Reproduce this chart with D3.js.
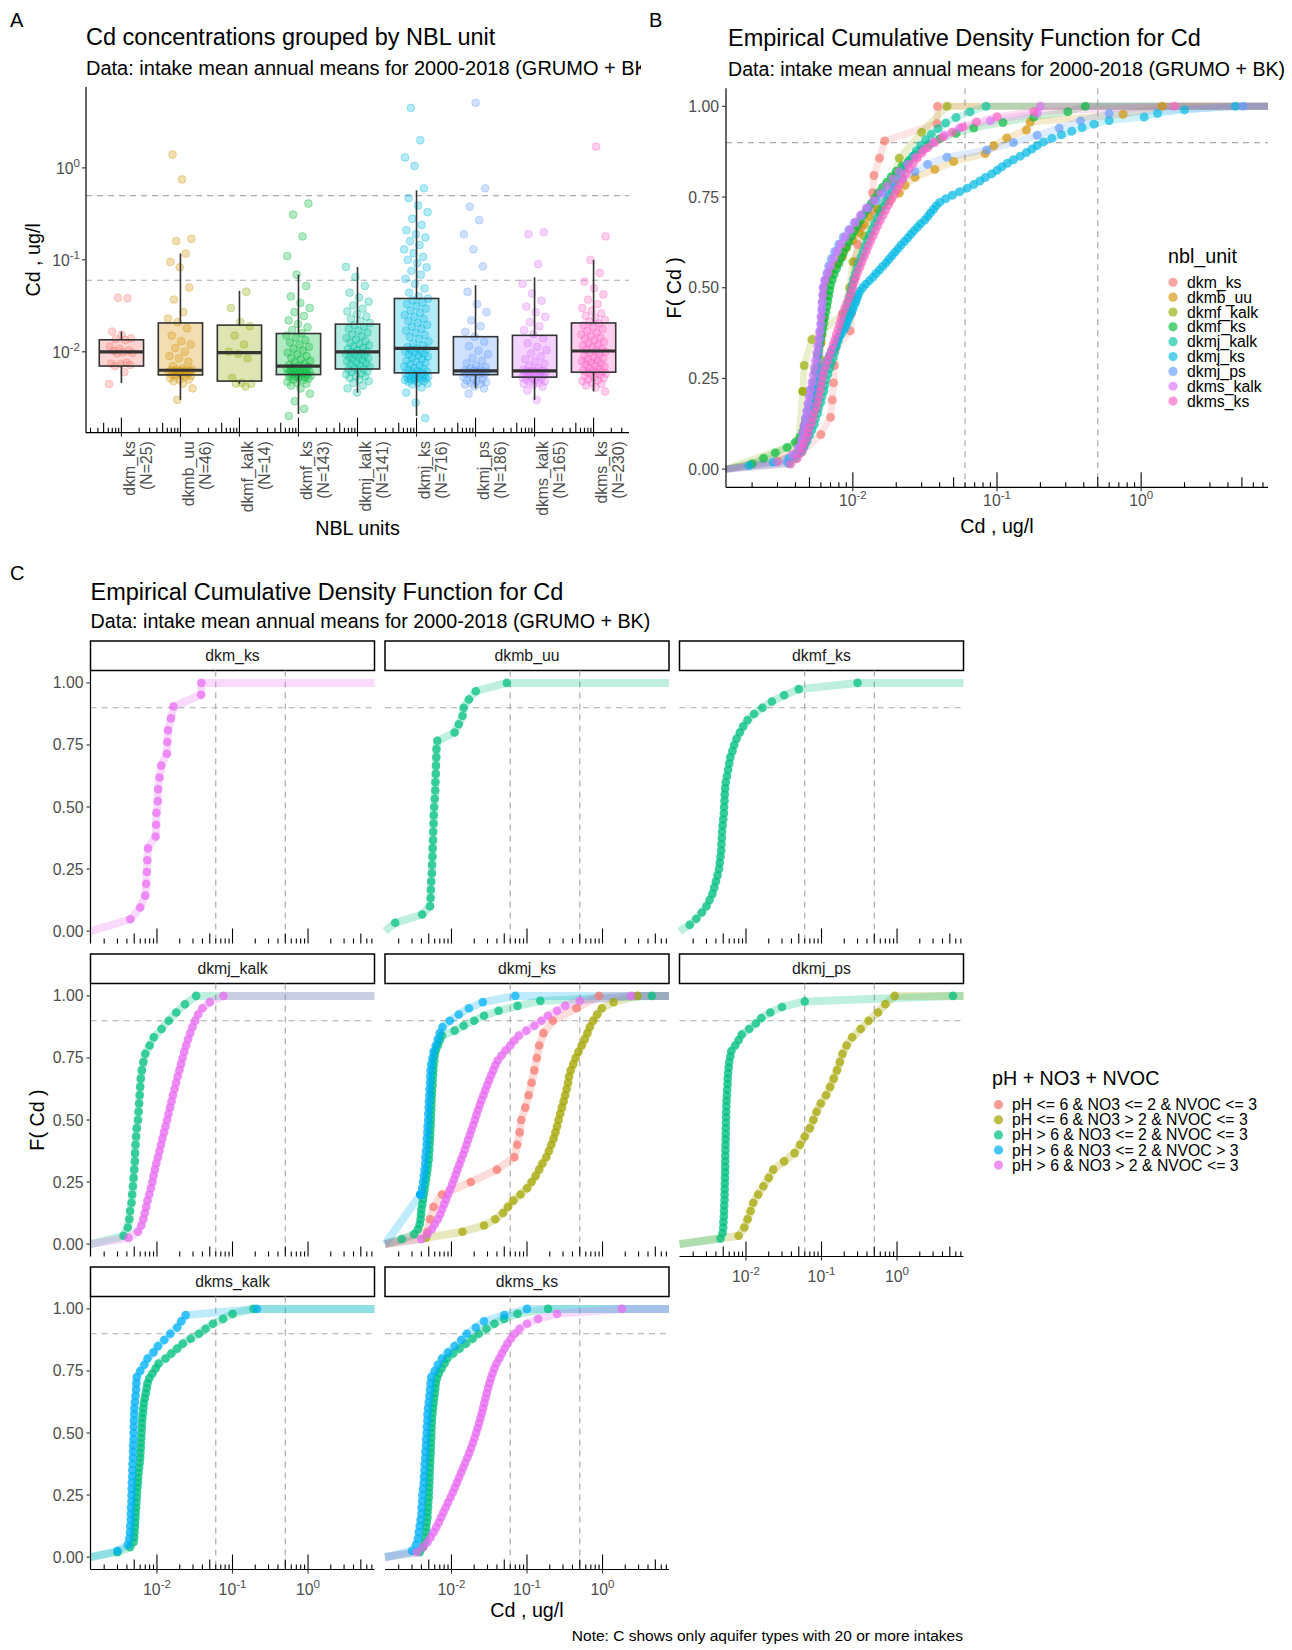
<!DOCTYPE html>
<html><head><meta charset="utf-8">
<script src="https://cdn.jsdelivr.net/npm/d3@7"></script>
<style>
body{margin:0;background:#fff}
svg{display:block}
text{font-family:"Liberation Sans",Arial,sans-serif}
</style></head>
<body><svg id="chart" width="1292" height="1650"></svg>
<script>
// ---------------- DATA ----------------
const units = ["dkm_ks","dkmb_uu","dkmf_kalk","dkmf_ks","dkmj_kalk","dkmj_ks","dkmj_ps","dkms_kalk","dkms_ks"];
const unitN = [25,46,14,143,141,716,186,165,230];
const unitColors = ["#F8766D","#D39200","#93AA00","#00BA38","#00C19F","#00B9E3","#619CFF","#DB72FB","#FF61C3"];
// boxplot statistics (ug/l)
const boxLow  = [0.00457,0.0030,0.0045,0.0021,0.0036,0.0020,0.0040,0.0030,0.0037];
const boxQ1   = [0.0070,0.0056,0.0048,0.00565,0.0065,0.0059,0.00564,0.0053,0.0060];
const boxMed  = [0.0100,0.0063,0.0098,0.0070,0.0100,0.0109,0.0062,0.0062,0.0102];
const boxQ3   = [0.0135,0.0206,0.0195,0.0158,0.0200,0.0380,0.0146,0.0151,0.0206];
const boxHigh = [0.0166,0.117,0.046,0.069,0.0836,0.57,0.053,0.0646,0.100];
// Cd values per unit (ug/l)
const cd_dkm_ks = [0.00445,0.0060,0.0070,0.0072,0.00735,0.00745,0.0076,0.0096,0.00975,0.00985,0.01025,0.01035,0.0108,0.0114,0.0135,0.0137,0.0140,0.0153,0.0166,0.0384,0.0387];
const cd_dkmb_uu = [0.0030,0.0040,0.0045,0.0048,0.0050,0.0050,0.0052,0.0054,0.0055,0.0055,0.0056,0.0057,0.0058,0.0059,0.0060,0.0060,0.0061,0.0062,0.0062,0.0063,0.0063,0.0063,0.0064,0.0066,0.0070,0.0078,0.0085,0.0090,0.0100,0.0110,0.0120,0.0130,0.0150,0.0180,0.0210,0.0230,0.0270,0.0370,0.0500,0.0830,0.0950,0.1170,0.1600,0.1700,0.7500,1.4000];
const cd_dkmf_kalk = [0.0042,0.0045,0.0045,0.0046,0.0052,0.0085,0.0095,0.0100,0.0120,0.0150,0.0190,0.0210,0.0300,0.0450];
const cd_dkmf_ks = [0.0020,0.0024,0.0029,0.0035,0.0040,0.0043,0.0045,0.0046,0.0047,0.0049,0.0050,0.0051,0.0052,0.0053,0.0053,0.0054,0.0055,0.0055,0.0056,0.0057,0.0057,0.0058,0.0059,0.0060,0.0061,0.0062,0.0063,0.0064,0.0065,0.0066,0.0067,0.0068,0.0069,0.0070,0.0072,0.0074,0.0077,0.0080,0.0083,0.0086,0.0090,0.0094,0.0098,0.0103,0.0108,0.0113,0.0119,0.0126,0.0134,0.0142,0.0150,0.0160,0.0172,0.0185,0.0200,0.0220,0.0245,0.0270,0.0300,0.0340,0.0400,0.0520,0.0690,0.1100,0.1800,0.3100,0.4100];
const cd_dkmj_kalk = [0.0036,0.0040,0.0043,0.0046,0.0048,0.0050,0.0052,0.0054,0.0055,0.0057,0.0058,0.0060,0.0061,0.0063,0.0064,0.0065,0.0067,0.0069,0.0071,0.0073,0.0075,0.0077,0.0079,0.0081,0.0083,0.0085,0.0087,0.0089,0.0091,0.0093,0.0095,0.0097,0.0099,0.0101,0.0104,0.0107,0.0110,0.0114,0.0118,0.0122,0.0126,0.0131,0.0136,0.0142,0.0148,0.0155,0.0162,0.0170,0.0178,0.0187,0.0196,0.0205,0.0216,0.0228,0.0242,0.0258,0.0275,0.0295,0.0320,0.0350,0.0390,0.0440,0.0520,0.0650,0.0840];
const cd_dkmj_ks = [0.0019,0.0028,0.0036,0.0041,0.0044,0.0045,0.0046,0.0047,0.0048,0.0049,0.00492,0.0050,0.00503,0.0051,0.00513,0.0052,0.0053,0.00535,0.0054,0.0055,0.00553,0.0056,0.0057,0.0058,0.0059,0.0060,0.0061,0.0062,0.0064,0.0066,0.0067,0.0069,0.0071,0.0073,0.0076,0.0078,0.0080,0.0083,0.0086,0.0089,0.0091,0.0093,0.0095,0.0098,0.0100,0.0102,0.0105,0.0107,0.0109,0.0112,0.0117,0.0123,0.0130,0.0138,0.0145,0.0153,0.0161,0.0170,0.0178,0.0187,0.0196,0.0206,0.0216,0.0228,0.0240,0.0252,0.0265,0.0280,0.0295,0.0315,0.0330,0.0345,0.0362,0.0378,0.0400,0.0440,0.0490,0.0550,0.0620,0.0690,0.0760,0.0830,0.0920,0.1000,0.1080,0.1180,0.1300,0.1450,0.1600,0.1750,0.1900,0.2100,0.2400,0.2800,0.3300,0.3900,0.4700,0.6000,1.0500,1.3000,2.0000,4.5000];
const cd_dkmj_ps = [0.0035,0.0040,0.0042,0.0044,0.0045,0.0046,0.0047,0.0048,0.0049,0.0050,0.0051,0.0053,0.0056,0.0057,0.00572,0.0058,0.00583,0.0059,0.00593,0.0060,0.00603,0.0061,0.00613,0.0062,0.00623,0.0064,0.0066,0.0068,0.0071,0.0075,0.0080,0.0086,0.0094,0.0103,0.0115,0.0128,0.0146,0.0165,0.0190,0.0220,0.0270,0.0330,0.0450,0.0850,0.1300,0.1900,0.2700,0.3800,0.6000,5.1000];
const cd_dkms_kalk = [0.0030,0.0038,0.0042,0.0044,0.0045,0.0046,0.0047,0.0048,0.0049,0.0050,0.0051,0.0052,0.0053,0.0054,0.0055,0.0056,0.0057,0.0058,0.0059,0.0060,0.00603,0.0061,0.00613,0.0062,0.00623,0.0064,0.0067,0.0070,0.0074,0.0078,0.0083,0.0089,0.0096,0.0104,0.0113,0.0124,0.0140,0.0155,0.0172,0.0190,0.0210,0.0240,0.0270,0.0310,0.0360,0.0430,0.0550,0.0900,0.1900,0.2000];
const cd_dkms_ks = [0.0037,0.0041,0.0043,0.0045,0.0046,0.0048,0.0049,0.0050,0.0052,0.0053,0.0054,0.0056,0.0057,0.0058,0.0059,0.0060,0.0061,0.0062,0.0063,0.0065,0.0067,0.0069,0.0071,0.0073,0.0075,0.0077,0.0079,0.0081,0.0083,0.0085,0.0088,0.0091,0.0094,0.0097,0.0100,0.0102,0.0105,0.0108,0.0112,0.0116,0.0120,0.0124,0.0128,0.0133,0.0138,0.0143,0.0149,0.0155,0.0162,0.0169,0.0177,0.0185,0.0194,0.0203,0.0212,0.0222,0.0234,0.0247,0.0262,0.0280,0.0300,0.0330,0.0370,0.0420,0.0490,0.0580,0.0720,0.1000,0.1800,1.7000];
const unitValues = [cd_dkm_ks,cd_dkmb_uu,cd_dkmf_kalk,cd_dkmf_ks,cd_dkmj_kalk,cd_dkmj_ks,cd_dkmj_ps,cd_dkms_kalk,cd_dkms_ks];

// Panel C: groups per facet
const groups = ["pH <= 6 & NO3 <= 2 & NVOC <= 3","pH <= 6 & NO3 > 2 & NVOC <= 3","pH > 6 & NO3 <= 2 & NVOC <= 3","pH > 6 & NO3 <= 2 & NVOC > 3","pH > 6 & NO3 > 2 & NVOC <= 3"];
const groupColors = ["#F8766D","#A3A500","#00BF7D","#00B0F6","#E76BF3"];
const facets = ["dkm_ks","dkmb_uu","dkmf_ks","dkmj_kalk","dkmj_ks","dkmj_ps","dkms_kalk","dkms_ks"];

const c_dkm_ks_g5 = [0.00445,0.0060,0.0070,0.0072,0.00735,0.00745,0.0076,0.0096,0.00975,0.00985,0.01025,0.01035,0.0108,0.0114,0.0135,0.0137,0.0140,0.0153,0.0166,0.0384,0.0387];
const c_dkmb_uu_g3 = [0.0018,0.0041,0.0052,0.0053,0.00533,0.0054,0.0055,0.00553,0.0056,0.00563,0.0057,0.00573,0.0058,0.00583,0.0059,0.0060,0.0061,0.00613,0.0062,0.00623,0.0063,0.00633,0.0065,0.0110,0.0125,0.0140,0.0145,0.0170,0.0210,0.0540];
const c_dkmf_ks_g3 = [0.0018,0.0022,0.0026,0.0030,0.0033,0.0036,0.0038,0.0040,0.0042,0.0044,0.0045,0.0046,0.0047,0.00473,0.0048,0.00483,0.0049,0.0050,0.0051,0.00513,0.0052,0.00523,0.0053,0.0054,0.0056,0.0058,0.0060,0.0062,0.0066,0.0070,0.0075,0.0083,0.0092,0.0105,0.0128,0.0165,0.0220,0.0320,0.0500,0.3000];
const c_dkmj_kalk_g3 = [0.0036,0.0041,0.0043,0.0044,0.0046,0.0047,0.0048,0.0049,0.0050,0.0051,0.00513,0.0052,0.0053,0.0054,0.0056,0.0057,0.0058,0.0059,0.0060,0.0061,0.0063,0.0066,0.0070,0.0080,0.0091,0.0115,0.0143,0.0180,0.0235,0.0330];
const c_dkmj_kalk_g5 = [0.0042,0.0056,0.0062,0.0066,0.0069,0.0072,0.0075,0.0079,0.0083,0.0087,0.0090,0.0094,0.0098,0.0103,0.0108,0.0113,0.0118,0.0124,0.0130,0.0136,0.0142,0.0149,0.0156,0.0163,0.0171,0.0179,0.0188,0.0198,0.0208,0.0218,0.0230,0.0243,0.0258,0.0275,0.0295,0.0320,0.0350,0.0400,0.0500,0.0760];
const c_dkmj_ks_g1 = [0.0048,0.0052,0.0058,0.0075,0.0180,0.0400,0.0680,0.0740,0.0800,0.0840,0.0950,0.1050,0.1150,0.1250,0.1350,0.1450,0.1650,0.2200,0.4500,0.9000];
const c_dkmj_ks_g2 = [0.0046,0.0140,0.0270,0.0380,0.0480,0.0560,0.0660,0.0820,0.1000,0.1150,0.1300,0.1450,0.1600,0.1800,0.1950,0.2100,0.2250,0.2380,0.2500,0.2620,0.2750,0.2900,0.3050,0.3200,0.3350,0.3500,0.3600,0.3800,0.4100,0.4400,0.4800,0.5300,0.5800,0.6300,0.6800,0.7500,0.8500,0.9800,1.4000,2.9000];
const c_dkmj_ks_g3 = [0.0022,0.0032,0.0036,0.0038,0.0039,0.00395,0.0040,0.0041,0.0042,0.0043,0.0044,0.0045,0.0046,0.0047,0.0048,0.0049,0.0050,0.00503,0.0051,0.00513,0.0052,0.00522,0.00525,0.0053,0.00532,0.00535,0.0054,0.00542,0.00545,0.0055,0.00553,0.0056,0.00563,0.0057,0.00573,0.0058,0.0059,0.0060,0.0062,0.0066,0.0070,0.0075,0.0110,0.0145,0.0200,0.0270,0.0420,0.0750,0.1500,4.5000];
const c_dkmj_ks_g4 = [0.0039,0.0039,0.0039,0.0039,0.0039,0.0039,0.0039,0.0039,0.0041,0.0042,0.0043,0.0044,0.0045,0.00452,0.0046,0.0047,0.00472,0.0048,0.00483,0.0049,0.00493,0.0050,0.00503,0.0051,0.00513,0.0052,0.00523,0.0053,0.0054,0.0056,0.0058,0.0062,0.0066,0.0070,0.0076,0.0095,0.0125,0.0170,0.0260,0.0700];
const c_dkmj_ks_g5 = [0.0040,0.0048,0.0055,0.0060,0.0066,0.0071,0.0075,0.0080,0.0085,0.0090,0.0096,0.0102,0.0108,0.0114,0.0120,0.0127,0.0134,0.0142,0.0150,0.0158,0.0166,0.0175,0.0184,0.0194,0.0204,0.0214,0.0225,0.0237,0.0250,0.0265,0.0280,0.0297,0.0315,0.0335,0.0357,0.0380,0.0410,0.0460,0.0520,0.0600,0.0680,0.0780,0.0980,0.1250,0.1550,0.1900,0.2500,0.3200,0.5000,2.4000];
const c_dkmj_ps_g2 = [0.0080,0.0095,0.0105,0.0115,0.0125,0.0145,0.0170,0.0200,0.0230,0.0320,0.0440,0.0520,0.0600,0.0700,0.0780,0.0860,0.0980,0.1150,0.1300,0.1450,0.1600,0.1750,0.1900,0.2150,0.2550,0.3300,0.4200,0.5600,0.7000,0.9300];
const c_dkmj_ps_g3 = [0.0046,0.0049,0.0050,0.00503,0.0051,0.00512,0.00515,0.0052,0.00521,0.00523,0.00525,0.00527,0.0053,0.00531,0.00532,0.00533,0.00535,0.00537,0.00539,0.0054,0.00541,0.00543,0.00545,0.00547,0.0055,0.00553,0.0056,0.00563,0.0057,0.00573,0.0058,0.0059,0.0060,0.0062,0.0064,0.0072,0.0080,0.0088,0.0110,0.0135,0.0160,0.0210,0.0300,0.0600,5.5000];
const c_dkms_kalk_g3 = [0.0030,0.0044,0.0049,0.0050,0.00503,0.0051,0.00513,0.0052,0.00523,0.0053,0.00533,0.0054,0.00543,0.0055,0.0056,0.00563,0.0057,0.0058,0.0059,0.0060,0.00603,0.0061,0.00613,0.0062,0.00623,0.0063,0.00633,0.0064,0.0065,0.0066,0.0067,0.0069,0.0071,0.0073,0.0075,0.0079,0.0087,0.0096,0.0105,0.0130,0.0155,0.0185,0.0220,0.0280,0.0360,0.0440,0.0550,0.0750,0.1000,0.1900];
const c_dkms_kalk_g4 = [0.0030,0.0041,0.0043,0.0044,0.00442,0.0045,0.00451,0.00453,0.0046,0.00461,0.00463,0.00465,0.0047,0.00472,0.00474,0.0048,0.00482,0.00484,0.0049,0.00491,0.00493,0.00495,0.0050,0.00503,0.0051,0.0052,0.0053,0.00533,0.0054,0.0060,0.0068,0.0075,0.0090,0.0103,0.0125,0.0150,0.0185,0.0210,0.0240,0.2100];
const c_dkms_ks_g3 = [0.0038,0.0042,0.0044,0.0045,0.0046,0.00462,0.0047,0.0048,0.00482,0.0049,0.00492,0.0050,0.00502,0.00505,0.0051,0.00512,0.00515,0.0052,0.00522,0.00525,0.0053,0.00532,0.00535,0.0054,0.00542,0.00545,0.0055,0.00553,0.0056,0.0057,0.0058,0.0059,0.0060,0.0061,0.0062,0.0064,0.0068,0.0074,0.0081,0.0088,0.0105,0.0128,0.0155,0.0190,0.0230,0.0290,0.0370,0.0500,0.0750,0.1900];
const c_dkms_ks_g4 = [0.0030,0.0034,0.0036,0.0037,0.0038,0.0039,0.0040,0.00402,0.0041,0.00412,0.0042,0.0043,0.00432,0.0044,0.00442,0.0045,0.00452,0.0046,0.00462,0.0047,0.00472,0.0048,0.00482,0.0049,0.0050,0.0051,0.0052,0.0053,0.0054,0.0060,0.0066,0.0075,0.0090,0.0110,0.0135,0.0160,0.0210,0.0270,0.0500,0.1000];
const c_dkms_ks_g5 = [0.0035,0.0042,0.0048,0.0053,0.0058,0.0063,0.0068,0.0073,0.0078,0.0084,0.0090,0.0097,0.0104,0.0111,0.0118,0.0126,0.0134,0.0143,0.0152,0.0162,0.0172,0.0182,0.0192,0.0202,0.0212,0.0222,0.0232,0.0242,0.0252,0.0262,0.0272,0.0282,0.0293,0.0305,0.0318,0.0333,0.0350,0.0370,0.0395,0.0430,0.0465,0.0505,0.0550,0.0610,0.0690,0.0800,0.1000,0.1400,0.2500,1.8000];

// facet -> list of [groupIndex, values]
const facetSeries = [
  [[4,c_dkm_ks_g5]],
  [[2,c_dkmb_uu_g3]],
  [[2,c_dkmf_ks_g3]],
  [[2,c_dkmj_kalk_g3],[4,c_dkmj_kalk_g5]],
  [[0,c_dkmj_ks_g1],[1,c_dkmj_ks_g2],[2,c_dkmj_ks_g3],[3,c_dkmj_ks_g4],[4,c_dkmj_ks_g5]],
  [[1,c_dkmj_ps_g2],[2,c_dkmj_ps_g3]],
  [[2,c_dkms_kalk_g3],[3,c_dkms_kalk_g4]],
  [[2,c_dkms_ks_g3],[3,c_dkms_ks_g4],[4,c_dkms_ks_g5]]
];
const thresholdsCd = [0.06, 0.5];
const thresholdF = 0.9;
const yTicksF = [0,0.25,0.5,0.75,1];
const logTickExps = [-2,-1,0];

// ---------------- DRAWING ----------------
const svg = d3.select("#chart");
const GREY = "#4D4D4D";
const DASH = "#ABABAB";
const dom = [Math.pow(10,-2.88), Math.pow(10,0.88)];

svg.append("defs").append("clipPath").attr("id","clipA")
  .append("rect").attr("x",0).attr("y",0).attr("width",641).attr("height",560);

function txt(g, x, y, s, size, opts={}) {
  const t = g.append("text").attr("x",x).attr("y",y).attr("font-size",size)
    .attr("fill",opts.fill||"#000").attr("text-anchor",opts.anchor||"start").text(s);
  if (opts.rotate) t.attr("transform",`rotate(${opts.rotate},${x},${y})`);
  return t;
}
function powLabel(g, x, y, e, anchor) {
  const t = g.append("text").attr("x",x).attr("y",y).attr("font-size",15.8)
    .attr("fill",GREY).attr("text-anchor",anchor);
  t.append("tspan").text("10");
  t.append("tspan").attr("dy",-7).attr("font-size",11.5).text(String(e));
  return t;
}
function hline(g,x1,x2,y,stroke,w,dash){const l=g.append("line").attr("x1",x1).attr("x2",x2).attr("y1",y).attr("y2",y).attr("stroke",stroke).attr("stroke-width",w); if(dash) l.attr("stroke-dasharray",dash); return l;}
function vline(g,x,y1,y2,stroke,w,dash){const l=g.append("line").attr("x1",x).attr("x2",x).attr("y1",y1).attr("y2",y2).attr("stroke",stroke).attr("stroke-width",w); if(dash) l.attr("stroke-dasharray",dash); return l;}

function logTicksBottom(g, xs, yb, x0, x1) {
  for (let e=-3;e<=0;e++) for (let m=1;m<=9;m++) {
    const x = xs(m*Math.pow(10,e));
    if (x < x0-0.1 || x > x1+0.1) continue;
    const len = m===1?15:(m===5?10:5);
    vline(g,x,yb,yb-len,"#000",1.1);
  }
}
function ecdfPoints(values){
  const s = values.slice().sort((a,b)=>a-b), n = s.length;
  return s.map(v=>[v, d3.bisectRight(s,v)/n]);
}
function drawEcdfLine(g, values, color, xs, ys, x0, x1, w, op) {
  const p = ecdfPoints(values);
  const coords = [[x0, ys(0)]].concat(p.map(d=>[xs(d[0]), ys(d[1])])).concat([[x1, ys(1)]]);
  g.append("path").attr("d", d3.line()(coords)).attr("fill","none").attr("stroke",color)
    .attr("stroke-width",w).attr("stroke-opacity",op).attr("stroke-linejoin","round");
}
function drawEcdfPoints(g, values, color, xs, ys, r, op) {
  g.selectAll(null).data(ecdfPoints(values)).enter().append("circle")
    .attr("cx",d=>xs(d[0])).attr("cy",d=>ys(d[1])).attr("r",r)
    .attr("fill",color).attr("fill-opacity",op);
}

// ================= PANEL A =================
(function(){
  const g = svg.append("g").attr("clip-path","url(#clipA)");
  const L=86, R=629, T=87, B=432.7;
  const xs = d3.scaleLinear().domain([0.4,9.6]).range([L,R]);
  const ys = d3.scaleLog().domain(dom).range([B,T]);
  const step = xs(2)-xs(1);
  txt(g,10,27,"A",20);
  txt(g,86,45,"Cd concentrations grouped by NBL unit",23.5);
  txt(g,86,74.5,"Data: intake mean annual means for 2000-2018 (GRUMO + BK)",20);
  thresholdsCd.forEach(v=>hline(g,L,R,ys(v),DASH,1.2,"6,5"));
  unitValues.forEach((vals,u)=>{
    const cx = xs(u+1);
    vals.forEach((v,i)=>{
      const j = ((i*0.6180339887 + u*0.37) % 1) - 0.5;
      g.append("circle").attr("cx",cx + j*2*0.21*step).attr("cy",ys(v)).attr("r",3.9)
        .attr("fill",unitColors[u]).attr("fill-opacity",0.3)
        .attr("stroke",unitColors[u]).attr("stroke-opacity",0.4).attr("stroke-width",0.8);
    });
  });
  const bw = 0.75*step;
  units.forEach((u,i)=>{
    const cx = xs(i+1);
    vline(g,cx,ys(boxQ3[i]),ys(boxHigh[i]),"#333",1.6);
    vline(g,cx,ys(boxQ1[i]),ys(boxLow[i]),"#333",1.6);
    g.append("rect").attr("x",cx-bw/2).attr("width",bw).attr("y",ys(boxQ3[i]))
      .attr("height",ys(boxQ1[i])-ys(boxQ3[i])).attr("fill",unitColors[i]).attr("fill-opacity",0.3)
      .attr("stroke","#333").attr("stroke-width",1.6);
    hline(g,cx-bw/2,cx+bw/2,ys(boxMed[i]),"#333",3.2);
  });
  for (let k=0;k<=9;k++) for (let m=1;m<=9;m++){
    const xv = k+Math.log10(m);
    if (xv<0.4||xv>9.6) continue;
    const len = m===1?15:(m===5?10:5);
    vline(g,xs(xv),B,B-len,"#000",1.1);
  }
  vline(g,L,T,B,"#000",1.2);
  hline(g,L,R,B,"#000",1.2);
  logTickExps.forEach(e=>{
    const y = ys(Math.pow(10,e));
    hline(g,L-4,L,y,"#333",1.1);
    powLabel(g,L-6,y+6.5,e,"end");
  });
  units.forEach((u,i)=>{
    const cx = xs(i+1);
    vline(g,cx,B,B+4,"#333",1.1);
    const y0 = B+8.5;
    txt(g,cx+13.5,y0,u,15.8,{fill:GREY,anchor:"end",rotate:-90});
    txt(g,cx+30.5,y0,`(N=${unitN[i]})`,15.8,{fill:GREY,anchor:"end",rotate:-90});
  });
  txt(g,(L+R)/2,535,"NBL units",19.7,{anchor:"middle"});
  txt(g,40,(T+B)/2,"Cd , ug/l",19.7,{anchor:"middle",rotate:-90});
})();

// ================= PANEL B =================
(function(){
  const g = svg.append("g");
  const L=726, R=1268, T=88.2, B=487.3;
  const xs = d3.scaleLog().domain(dom).range([L,R]);
  const ys = d3.scaleLinear().domain([-0.05,1.05]).range([B,T]);
  txt(g,649,27,"B",20);
  txt(g,728,46,"Empirical Cumulative Density Function for Cd",23.5);
  txt(g,728,75.5,"Data: intake mean annual means for 2000-2018 (GRUMO + BK)",19.6);
  hline(g,L,R,ys(thresholdF),DASH,1.2,"6,5");
  thresholdsCd.forEach(v=>vline(g,xs(v),T,B,DASH,1.2,"6,5"));
  unitValues.forEach((vals,i)=>drawEcdfLine(g,vals,unitColors[i],xs,ys,L,R,7,0.2));
  unitValues.forEach((vals,i)=>drawEcdfPoints(g,vals,unitColors[i],xs,ys,4.5,0.65));
  logTicksBottom(g,xs,B,L,R);
  vline(g,L,T,B,"#000",1.2);
  hline(g,L,R,B,"#000",1.2);
  yTicksF.forEach(f=>{
    hline(g,L-4,L,ys(f),"#333",1.1);
    txt(g,L-7,ys(f)+5.5,f.toFixed(2),15.8,{fill:GREY,anchor:"end"});
  });
  logTickExps.forEach(e=>{
    const x = xs(Math.pow(10,e));
    vline(g,x,B,B+4,"#333",1.1);
    powLabel(g,x,506,e,"middle");
  });
  txt(g,(L+R)/2,533,"Cd , ug/l",19.7,{anchor:"middle"});
  txt(g,681,(T+B)/2,"F( Cd )",19.7,{anchor:"middle",rotate:-90});
  txt(g,1168,263,"nbl_unit",19.7);
  units.forEach((u,i)=>{
    const cy = 282.3 + i*14.85;
    g.append("circle").attr("cx",1173).attr("cy",cy).attr("r",4.6).attr("fill",unitColors[i]).attr("fill-opacity",0.65);
    txt(g,1187,cy+5.5,u,15.8);
  });
})();

// ================= PANEL C =================
(function(){
  const g = svg.append("g");
  txt(g,10,580,"C",20);
  txt(g,90.5,599.5,"Empirical Cumulative Density Function for Cd",23.5);
  txt(g,90.5,628.3,"Data: intake mean annual means for 2000-2018 (GRUMO + BK)",19.7);
  const colX = [90.5, 385, 679.5], W = 284;
  const stripTop = [641, 954, 1267], stripH = 29.5, panelH = 273;
  facets.forEach((f,k)=>{
    const r = Math.floor(k/3), c = k%3;
    const L = colX[c], R = L+W, T = stripTop[r]+stripH, B = T+panelH;
    const xs = d3.scaleLog().domain(dom).range([L,R]);
    const ys = d3.scaleLinear().domain([-0.05,1.05]).range([B,T]);
    const pg = g.append("g");
    pg.append("rect").attr("x",L).attr("y",stripTop[r]).attr("width",W).attr("height",stripH)
      .attr("fill","#fff").attr("stroke","#000").attr("stroke-width",1.5);
    txt(pg,(L+R)/2,stripTop[r]+stripH/2+5.5,f,15.8,{fill:"#1A1A1A",anchor:"middle"});
    hline(pg,L,R,ys(thresholdF),DASH,1.2,"6,5");
    thresholdsCd.forEach(v=>vline(pg,xs(v),T,B,DASH,1.2,"6,5"));
    facetSeries[k].forEach(([gi,vals])=>drawEcdfLine(pg,vals,groupColors[gi],xs,ys,L,R,8,0.25));
    facetSeries[k].forEach(([gi,vals])=>drawEcdfPoints(pg,vals,groupColors[gi],xs,ys,4.3,0.72));
    logTicksBottom(pg,xs,B,L,R);
    if (c===0) {
      vline(pg,L,T,B,"#000",1.2);
      yTicksF.forEach(fv=>{
        hline(pg,L-4,L,ys(fv),"#333",1.1);
        txt(pg,L-7,ys(fv)+5.5,fv.toFixed(2),15.8,{fill:GREY,anchor:"end"});
      });
    }
    const hasXAxis = (r===2) || (r===1 && c===2);
    if (hasXAxis) {
      hline(pg,L,R,B,"#000",1.2);
      logTickExps.forEach(e=>{
        const x = xs(Math.pow(10,e));
        vline(pg,x,B,B+4,"#333",1.1);
        powLabel(pg,x,B+25.5,e,"middle");
      });
    }
  });
  txt(g,527,1617,"Cd , ug/l",19.7,{anchor:"middle"});
  txt(g,44,1120,"F( Cd )",19.7,{anchor:"middle",rotate:-90});
  txt(g,992,1085,"pH + NO3 + NVOC",19.7);
  groups.forEach((s,i)=>{
    const cy = 1104.7 + i*15.1;
    g.append("circle").attr("cx",998.5).attr("cy",cy).attr("r",4.6).attr("fill",groupColors[i]).attr("fill-opacity",0.72);
    txt(g,1012,cy+5.5,s,15.8);
  });
  txt(g,963,1641,"Note: C shows only aquifer types with 20 or more intakes",15.5,{anchor:"end"});
})();
</script></body></html>
